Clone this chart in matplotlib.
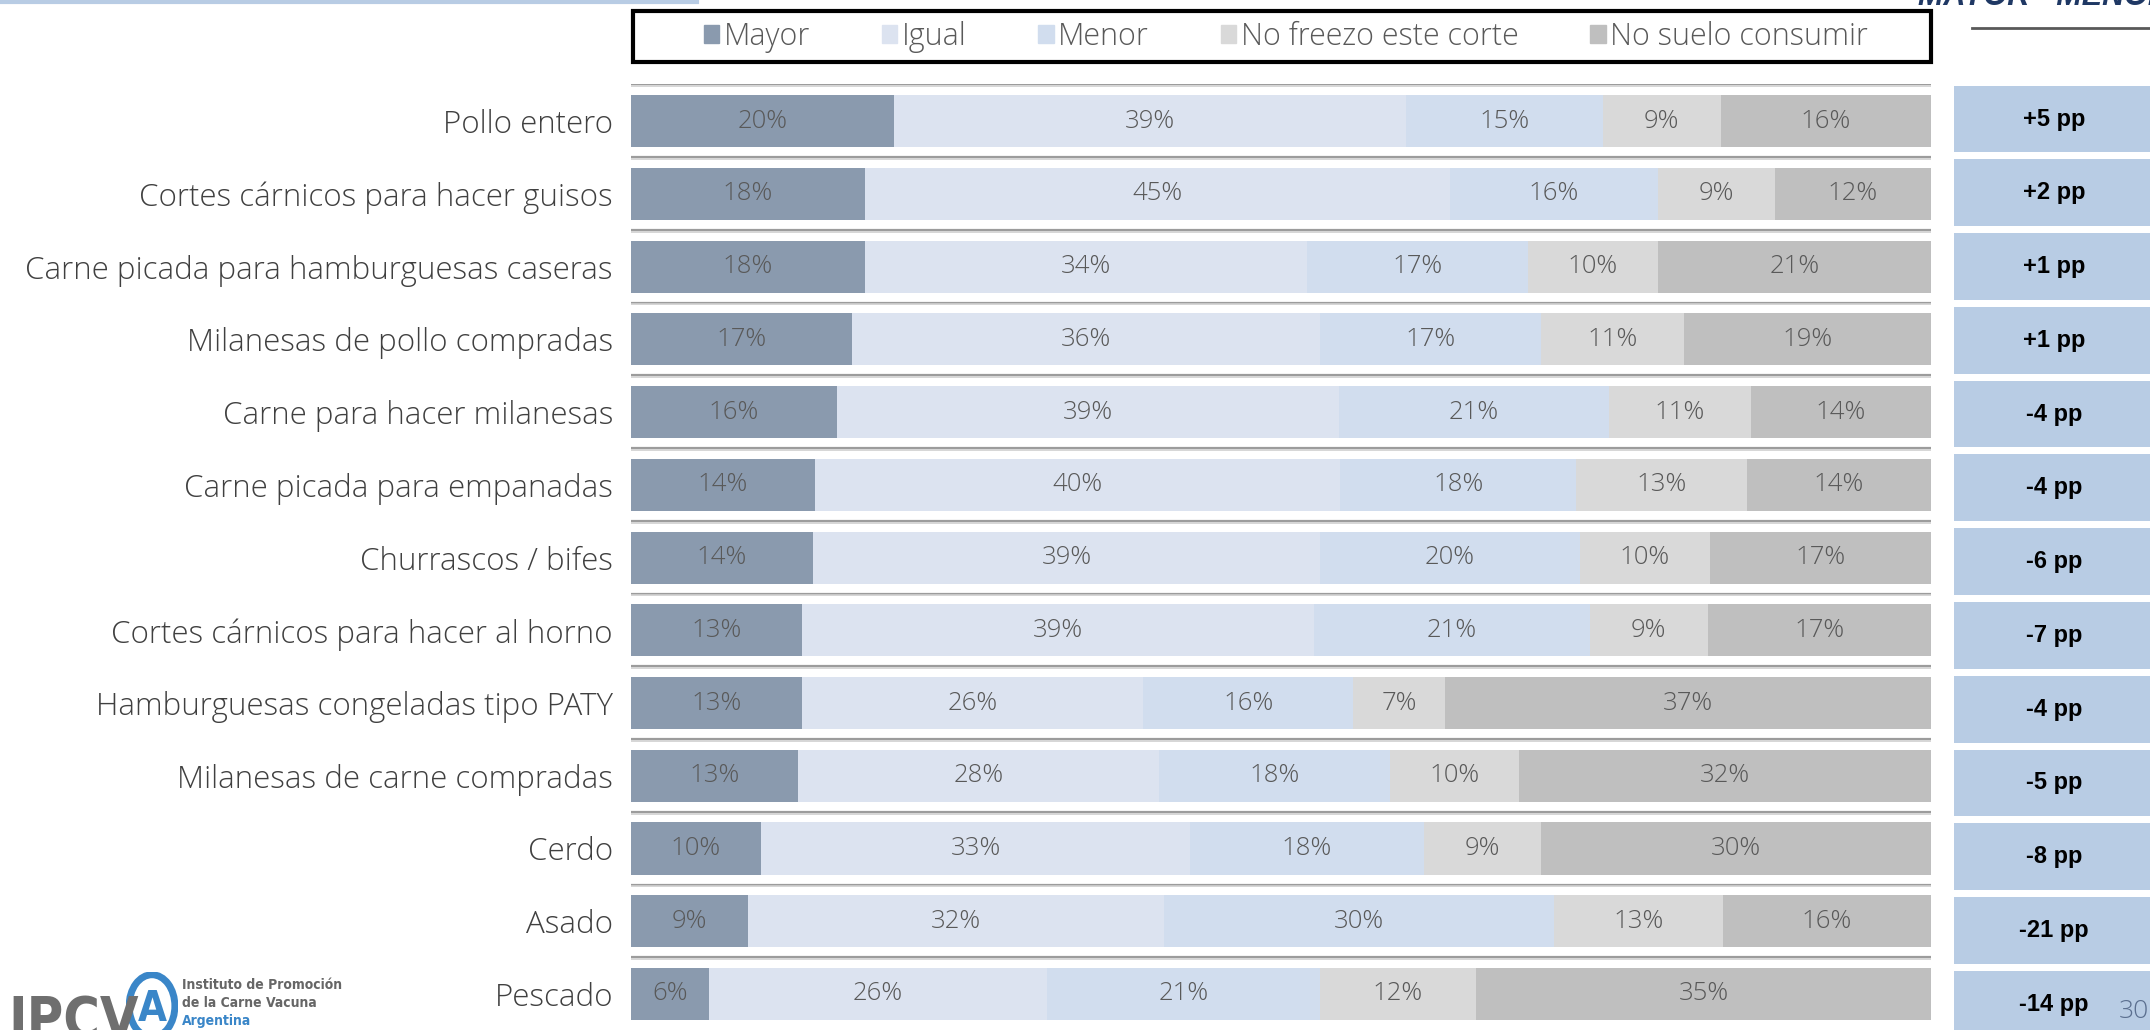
import matplotlib
matplotlib.use("Agg")
import matplotlib.pyplot as plt
from matplotlib.patches import Rectangle, Ellipse
from matplotlib.lines import Line2D
import numpy as np

plt.rcParams['font.family'] = ['Open Sans', 'DejaVu Sans']
plt.rcParams['font.weight'] = 'light'

categories = ['Pollo entero', 'Cortes cárnicos para hacer guisos',
              'Carne picada para hamburguesas caseras', 'Milanesas de pollo compradas',
              'Carne para hacer milanesas', 'Carne picada para empanadas',
              'Churrascos / bifes', 'Cortes cárnicos para hacer al horno',
              'Hamburguesas congeladas tipo PATY', 'Milanesas de carne compradas',
              'Cerdo', 'Asado', 'Pescado']
series_names = ['Mayor', 'Igual', 'Menor', 'No freezo este corte', 'No suelo consumir']
mayor = [20, 18, 18, 17, 16, 14, 14, 13, 13, 13, 10, 9, 6]
igual = [39, 45, 34, 36, 39, 40, 39, 39, 26, 28, 33, 32, 26]
menor = [15, 16, 17, 17, 21, 18, 20, 21, 16, 18, 18, 30, 21]
no_freezo = [9, 9, 10, 11, 11, 13, 10, 9, 7, 10, 9, 13, 12]
no_suelo = [16, 12, 21, 19, 14, 14, 17, 17, 37, 32, 30, 16, 35]
diff_pp = ['+5 pp', '+2 pp', '+1 pp', '+1 pp', '-4 pp', '-4 pp', '-6 pp', '-7 pp',
           '-4 pp', '-5 pp', '-8 pp', '-21 pp', '-14 pp']

colors = ['#8a9aae', '#dce3f0', '#d1ddee', '#d9d9d9', '#bfbfbf']

W, H = 2150, 1030
fig = plt.figure(figsize=(W / 100, H / 100), dpi=100)

# main stacked bars (100% normalized)
ax = fig.add_axes([631 / W, 0, 1300 / W, (H - 84) / H])
vals = np.array([mayor, igual, menor, no_freezo, no_suelo], dtype=float)
shares = vals / vals.sum(axis=0)
y = np.arange(len(categories))
left = np.zeros(len(categories))
for k in range(5):
    ax.barh(y, shares[k], left=left, height=0.715, color=colors[k], edgecolor='none')
    for i in range(len(categories)):
        ax.text(left[i] + shares[k][i] / 2, y[i], '%d%%' % vals[k][i],
                ha='center', va='center', fontsize=18.5, color='#595959')
    left += shares[k]

for i in range(len(categories)):
    ax.axhline(i - 0.505, color='#9c9c9c', lw=1.6)
    ax.axhline(i - 0.48, color='#d0d0d0', lw=1.2)

ax.set_xlim(0, 1)
ax.set_ylim(12.495, -0.509)
ax.set_yticks(y)
ax.set_yticklabels(categories, fontsize=22.5, color='#404040')
ax.tick_params(axis='y', length=0, pad=13)
ax.set_xticks([])
for s in ax.spines.values():
    s.set_visible(False)

# right column with differences
ax2 = fig.add_axes([1954 / W, 0, 200 / W, (H - 84) / H])
ax2.barh(y, [1] * len(y), height=0.905, color='#b8cce4', edgecolor='none')
for i, t in enumerate(diff_pp):
    ax2.text(0.5, i, t, ha='center', va='center', fontsize=17, fontweight='bold',
             color='black', family=['Liberation Sans', 'DejaVu Sans'])
ax2.set_xlim(0, 1)
ax2.set_ylim(12.35, -0.475)
ax2.axis('off')

# legend
handles = [Rectangle((0, 0), 1, 1, color=c) for c in colors]
fig.legend(handles, series_names, ncol=5, loc='center',
           bbox_to_anchor=(1286 / W, 1 - 37 / H), frameon=False,
           fontsize=22, handlelength=0.5, handleheight=0.5, handletextpad=0.15,
           columnspacing=2.35, labelcolor='#595959')
fig.add_artist(Rectangle((633 / W, 1 - 62 / H), 1298 / W, 51 / H, transform=fig.transFigure,
                         fill=False, edgecolor='black', lw=3))

# decorative lines
fig.add_artist(Line2D([0, 697 / W], [1 - 2 / H, 1 - 2 / H], color='#b8cce4', lw=3))
fig.add_artist(Line2D([1972 / W, 1], [1 - 28 / H, 1 - 28 / H], color='#595959', lw=2))

# header (cut off at top)
fig.text(1918 / W, 1 - 5 / H, 'MAYOR - MENOR', ha='left', va='baseline', fontsize=22,
         fontweight='bold', style='italic', color='#1f3864',
         family=['Liberation Sans', 'DejaVu Sans'])

# page number
fig.text(2134 / W, 1 - 1012 / H, '30', ha='center', va='center', fontsize=19, color='#5b6f8f')

# logo
fig.text(8 / W, 1 - 1036 / H, 'IPCV', ha='left', va='baseline', fontsize=40,
         fontweight='bold', color='#6f6f6f', family='DejaVu Sans', fontstretch='condensed')
lax = fig.add_axes([126 / W, 1 - 1040 / H, 52 / W, 68 / H])
lax.add_patch(Ellipse((0.5, 0.5), 0.88, 0.92, facecolor='white', edgecolor='#3a86c8', lw=5))
lax.text(0.5, 0.45, 'A', ha='center', va='center', fontsize=30, fontweight='bold',
         color='#3a86c8', family='DejaVu Sans', fontstretch='condensed')
lax.set_xlim(0, 1)
lax.set_ylim(0, 1)
lax.axis('off')
for j, (t, c) in enumerate([('Instituto de Promoción', '#666666'),
                            ('de la Carne Vacuna', '#666666'),
                            ('Argentina', '#3a86c8')]):
    fig.text(182 / W, 1 - (985 + 18 * j) / H, t, ha='left', va='center', fontsize=10,
             fontweight='bold', color=c, family='DejaVu Sans', fontstretch='condensed')

fig.savefig('out.png', dpi=100)
